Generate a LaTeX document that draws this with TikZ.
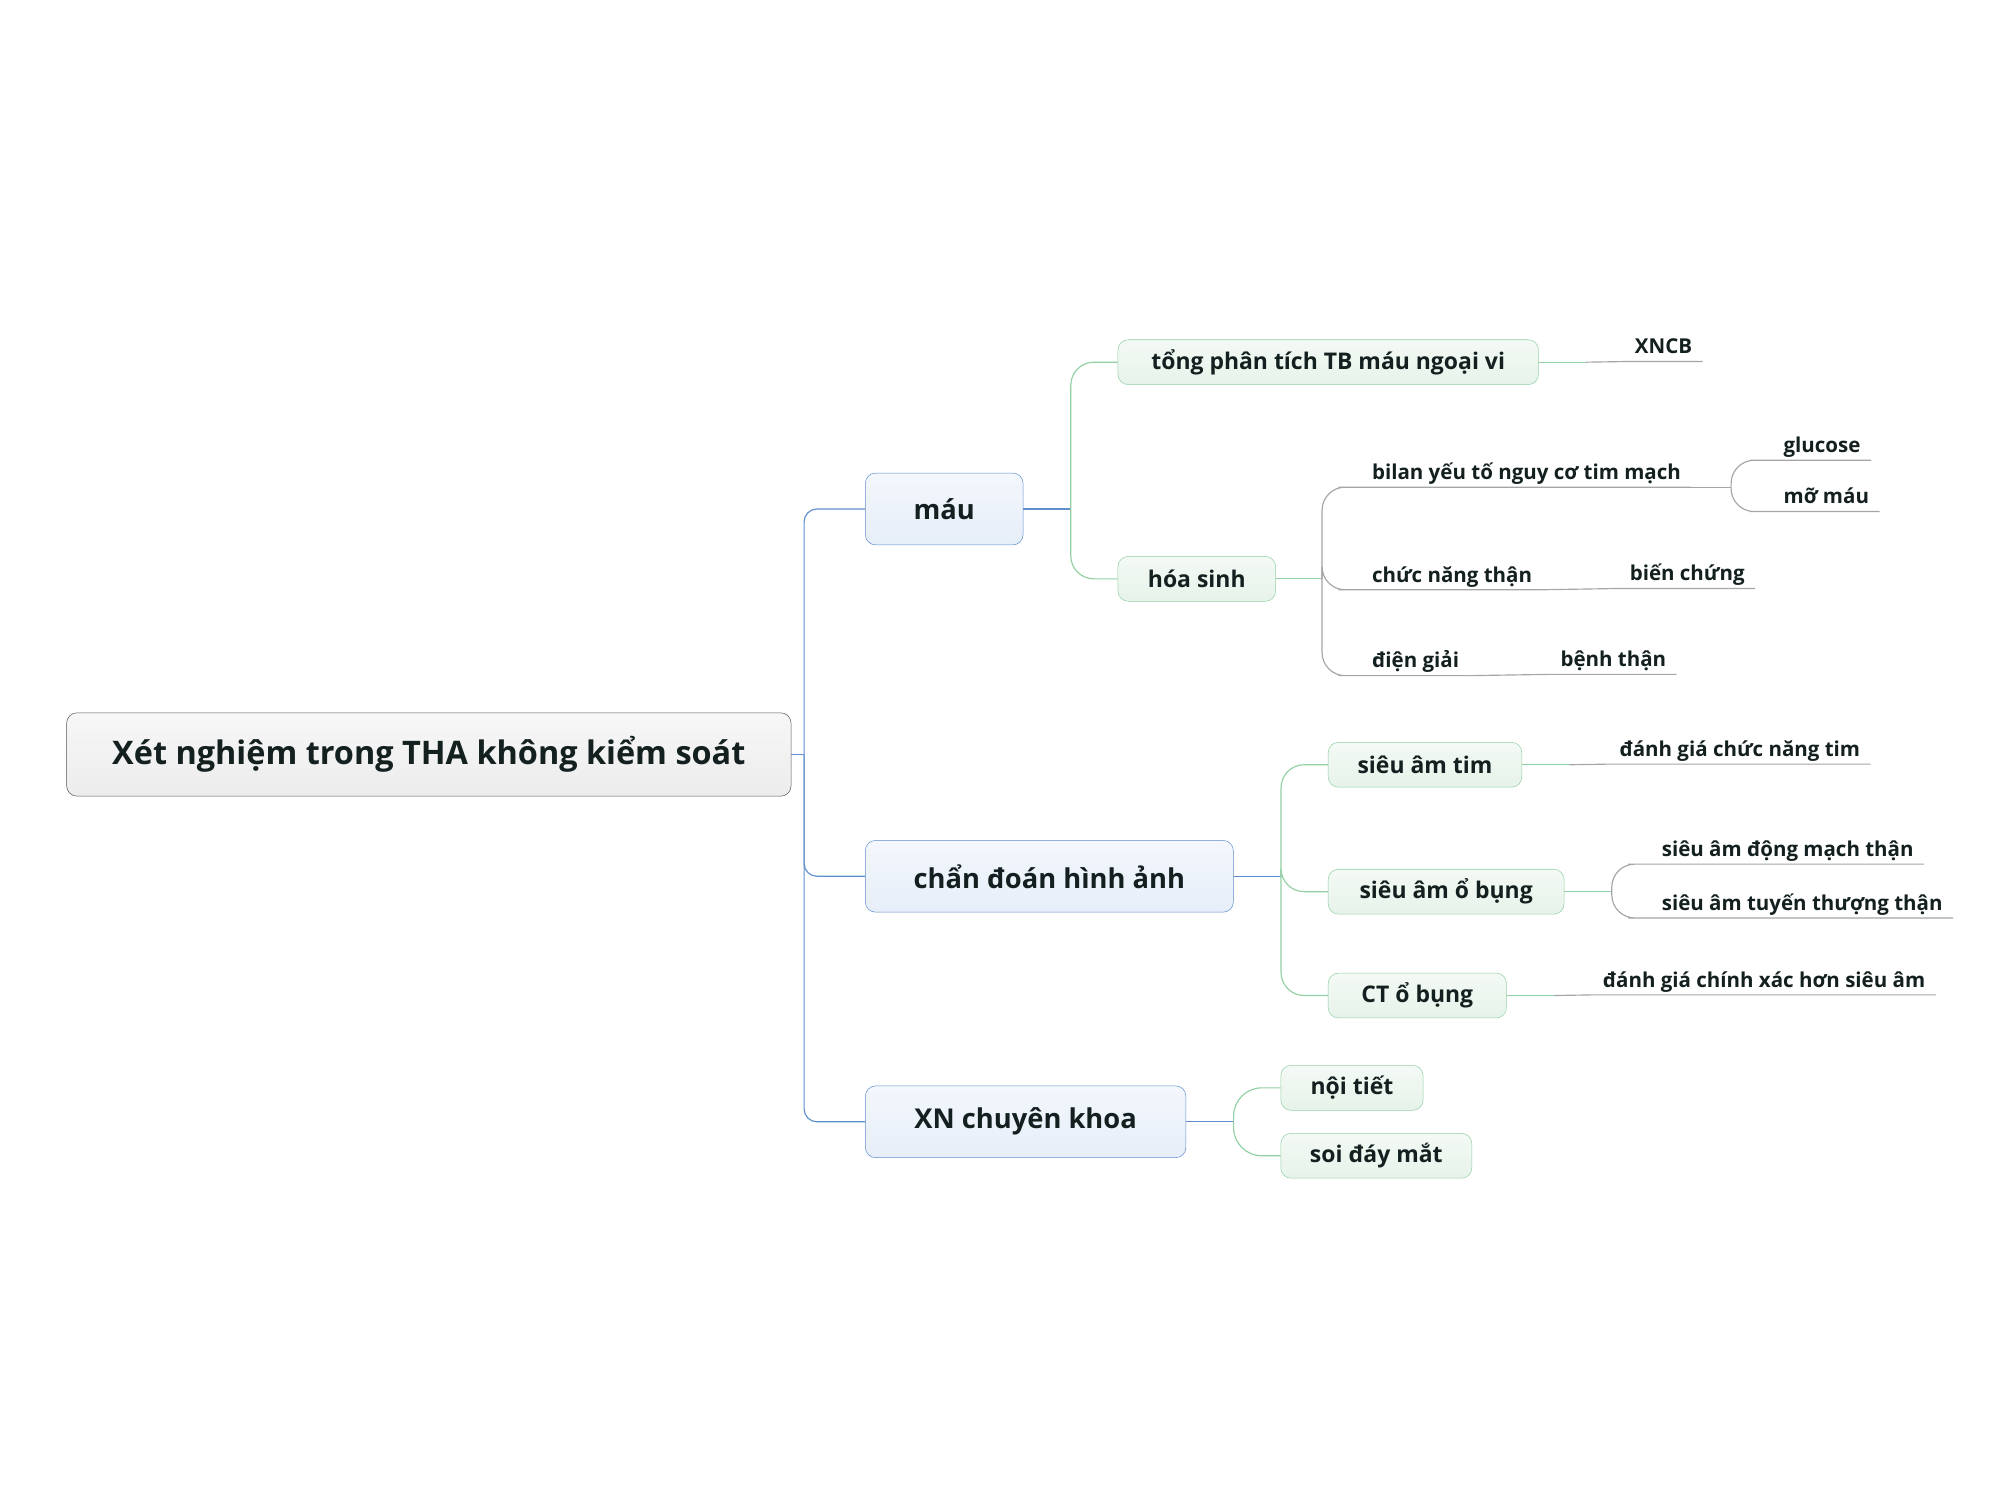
\documentclass[tikz,border=0pt]{standalone}
\usepackage{fontspec}
\setmainfont{Open Sans}
\usetikzlibrary{calc}
\definecolor{rootline}{RGB}{85,85,85}
\definecolor{blueline}{RGB}{96,142,204}
\definecolor{greenline}{RGB}{146,208,164}
\definecolor{grayline}{RGB}{165,165,165}
\definecolor{inkdark}{RGB}{20,32,32}
\definecolor{roottop}{RGB}{247,247,247}
\definecolor{rootbot}{RGB}{236,236,236}
\definecolor{bluetop}{RGB}{244,247,252}
\definecolor{bluebot}{RGB}{230,238,249}
\definecolor{greentop}{RGB}{244,249,245}
\definecolor{greenbot}{RGB}{230,243,233}
\tikzset{
  topic/.style = {draw, rounded corners=8, text=inkdark, inner sep=0},
  roottopic/.style = {topic, draw=rootline, top color=roottop, bottom color=rootbot,
    font=\fontsize{25.3}{30}\selectfont\bfseries, minimum height=65},
  maintopic/.style = {topic, draw=blueline, top color=bluetop, bottom color=bluebot,
    font=\fontsize{21.3}{25}\selectfont\bfseries, minimum height=56},
  subtopic/.style = {topic, draw=greenline, top color=greentop, bottom color=greenbot,
    font=\fontsize{17.9}{21}\selectfont\bfseries, minimum height=35},
  leaf/.style = {anchor=south west, inner xsep=8, inner ysep=1, text depth=4.8,
    text=inkdark, font=\fontsize{16}{19}\selectfont\bfseries},
  bluelink/.style = {draw=blueline, line width=0.9},
  greenlink/.style = {draw=greenline, line width=0.9},
  graylink/.style = {draw=grayline, line width=0.9}
}

\begin{document}
\begin{tikzpicture}[x=1pt,y=-1pt]
  \useasboundingbox (0,0) rectangle (1560,1170);
  % topics
  \node[roottopic, minimum width=565] (root) at (334.5,588.5) {Xét nghiệm trong THA không kiểm soát};
  \node[maintopic, minimum width=123] (mau) at (736.5,397) {máu};
  \node[maintopic, minimum width=287] (chan) at (818.5,683.5) {chẩn đoán hình ảnh};
  \node[maintopic, minimum width=250] (xnck) at (800,875) {XN chuyên khoa};
  \node[subtopic, minimum width=328] (tong) at (1036,282.5) {tổng phân tích TB máu ngoại vi};
  \node[subtopic, minimum width=123] (hoasinh) at (933.5,451.5) {hóa sinh};
  \node[subtopic, minimum width=151] (satim) at (1111.5,596.5) {siêu âm tim};
  \node[subtopic, minimum width=184] (saobung) at (1128,695.5) {siêu âm ổ bụng};
  \node[subtopic, minimum width=139] (ctbung) at (1105.5,776.5) {CT ổ bụng};
  \node[subtopic, minimum width=111] (noitiet) at (1054.5,848.5) {nội tiết};
  \node[subtopic, minimum width=149] (soiday) at (1073.5,901.5) {soi đáy mắt};
  % leaves
  \node[leaf] (xncb) at (1267,282) {XNCB};
  \node[leaf] (bilan) at (1062,380) {bilan yếu tố nguy cơ tim mạch};
  \node[leaf] (glucose) at (1383,359) {glucose};
  \node[leaf] (momau) at (1383,399) {mỡ máu};
  \node[leaf] (chucnang) at (1062,460) {chức năng thận};
  \node[leaf] (bienchung) at (1263,459) {biến chứng};
  \node[leaf] (diengiai) at (1062,527) {điện giải};
  \node[leaf] (benhthan) at (1209,526) {bệnh thận};
  \node[leaf] (dgtim) at (1255,596) {đánh giá chức năng tim};
  \node[leaf] (sadm) at (1288,674) {siêu âm động mạch thận};
  \node[leaf] (satt) at (1288,716) {siêu âm tuyến thượng thận};
  \node[leaf] (dgct) at (1242,776) {đánh giá chính xác hơn siêu âm};
  % root branches
  \draw[bluelink] (root.east) -- ++(10,0) coordinate (r0);
  \foreach \t in {mau,chan,xnck}
    \draw[bluelink, rounded corners=10] (r0) |- (\t.west);
  % máu
  \draw[bluelink] (mau.east) -- ++(37,0) coordinate (m0);
  \foreach \t in {tong,hoasinh}
    \draw[greenlink, rounded corners=18] (m0) |- (\t.west);
  % chẩn đoán hình ảnh
  \draw[bluelink] (chan.east) -- ++(37,0) coordinate (c0);
  \foreach \t in {satim,saobung,ctbung}
    \draw[greenlink, rounded corners=18] (c0) |- (\t.west);
  % XN chuyên khoa
  \draw[bluelink] (xnck.east) -- ++(37,0) coordinate (x0);
  \foreach \t in {noitiet,soiday}
    \draw[greenlink, rounded corners=22] (x0) |- (\t.west);
  % tổng phân tích
  \draw[greenlink] (tong.east) -- ++(37,0) coordinate (t0);
  \draw[graylink] (t0) -- (xncb.south west) -- (xncb.south east);
  % hóa sinh
  \draw[greenlink] (hoasinh.east) -- ++(36,0) coordinate (h0);
  \foreach \t in {bilan,chucnang,diengiai}
    \draw[graylink, rounded corners=18] (h0) |- (\t.south west) -- (\t.south east);
  \draw[graylink] (bilan.south east) -- ++(31,0) coordinate (b0);
  \foreach \t in {glucose,momau}
    \draw[graylink, rounded corners=18] (b0) |- (\t.south west) -- (\t.south east);
  \draw[graylink] (chucnang.south east) -- (bienchung.south west) -- (bienchung.south east);
  \draw[graylink] (diengiai.south east) -- (benhthan.south west) -- (benhthan.south east);
  % siêu âm
  \draw[greenlink] (satim.east) -- ++(37,0) coordinate (s0);
  \draw[graylink] (s0) -- (dgtim.south west) -- (dgtim.south east);
  \draw[greenlink] (saobung.east) -- ++(37,0) coordinate (s1);
  \foreach \t in {sadm,satt}
    \draw[graylink, rounded corners=18] (s1) |- (\t.south west) -- (\t.south east);
  \draw[greenlink] (ctbung.east) -- ++(37,0) coordinate (s2);
  \draw[graylink] (s2) -- (dgct.south west) -- (dgct.south east);
\end{tikzpicture}
\end{document}
